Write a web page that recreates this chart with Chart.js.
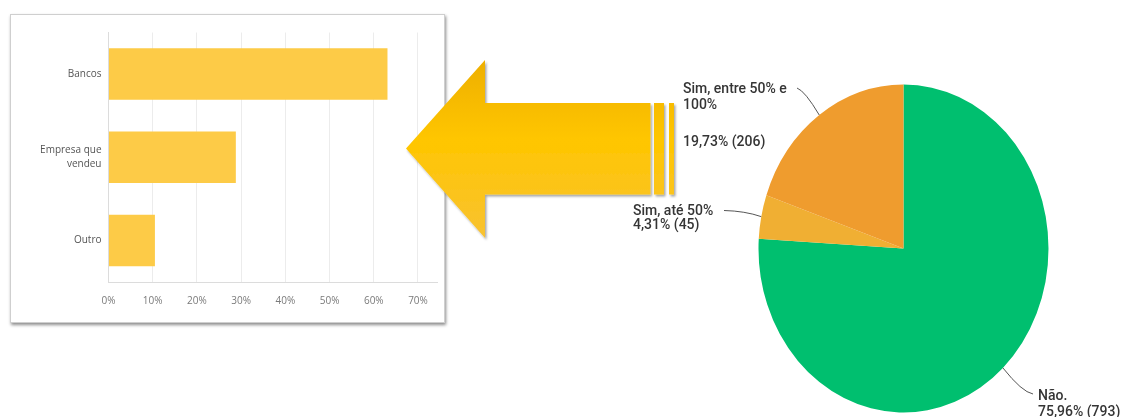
<!DOCTYPE html>
<html>
<head>
<meta charset="utf-8">
<script src="https://cdn.jsdelivr.net/npm/chart.js@4"></script>
<style>
  html, body { margin: 0; padding: 0; background: #fff; }
  body { position: relative; width: 1124px; height: 417px; overflow: hidden; }
  #barBox {
    position: absolute; left: 10px; top: 14px; width: 435px; height: 309px;
    box-sizing: border-box; border: 1px solid #cfcfcf;
    box-shadow: 1px 2px 3px rgba(0, 0, 0, 0.45);
    background: #fff;
  }
  #barChart { position: absolute; left: 10px; top: 14px; }
  #arrow { position: absolute; left: 0; top: 0; }
  #pieChart { position: absolute; left: 600px; top: 0; }
</style>
</head>
<body>
<div id="barBox"></div>
<canvas id="barChart" width="435" height="309"></canvas>

<svg id="arrow" width="1124" height="417">
  <defs>
    <linearGradient id="gold" gradientUnits="userSpaceOnUse" x1="0" y1="60" x2="0" y2="238">
      <stop offset="0" stop-color="#eeaf00"/>
      <stop offset="0.45" stop-color="#ffc600"/>
      <stop offset="1" stop-color="#f8c232"/>
    </linearGradient>
    <filter id="shade" x="-10%" y="-10%" width="130%" height="130%">
      <feDropShadow dx="1.5" dy="2" stdDeviation="1.2" flood-color="#000" flood-opacity="0.35"/>
    </filter>
  </defs>
  <g fill="url(#gold)" filter="url(#shade)">
    <polygon points="406,148.5 485,60 485,103 650.5,103 650.5,194.5 485,194.5 485,238"/>
    <rect x="654" y="103" width="10" height="91.5"/>
    <rect x="669" y="103" width="5" height="91.5"/>
  </g>
</svg>

<canvas id="pieChart" width="524" height="417"></canvas>

<script>
// onde o comprador buscou resolver o problema (% dos que responderam)
const barLabels = ['Bancos', ['Empresa que', 'vendeu'], 'Outro'];
const barValues = [63.1, 28.8, 10.5];
const barTicks = [0, 10, 20, 30, 40, 50, 60, 70];

// recebeu o dinheiro de volta? (respostas)
const pieLabels = [['Não.'], ['Sim, até 50%'], ['Sim, entre 50% e', '100%']];
const pieCounts = [793, 45, 206];
const pieColors = ['#00bf6f', '#f0af33', '#ef9c2e'];

const pieTotal = pieCounts.reduce((a, b) => a + b, 0);
const pctText = n => (n / pieTotal * 100).toFixed(2).replace('.', ',') + '% (' + n + ')';

// pizza original é mais alta que larga
const SY = 164 / 145;

const barFont = {family: "'Open Sans', sans-serif", size: 10};

new Chart(document.getElementById('barChart'), {
    type: 'bar',
    data: {
        labels: barLabels,
        datasets: [{
            data: barValues,
            backgroundColor: '#fdcb47',
            borderWidth: 0,
            categoryPercentage: 1,
            barPercentage: 0.62
        }]
    },
    options: {
        indexAxis: 'y',
        responsive: false,
        animation: false,
        layout: {padding: {top: 18.5, right: 8, bottom: 0, left: 0}},
        plugins: {legend: {display: false}, tooltip: {enabled: false}},
        scales: {
            x: {
                min: 0,
                max: 74.3,
                afterBuildTicks: s => { s.ticks = barTicks.map(v => ({value: v})); },
                afterFit: s => { s.height = 41; },
                grid: {color: '#ececec', drawTicks: false},
                border: {color: '#dcdcdc'},
                ticks: {
                    padding: 13,
                    color: '#7a7a7a',
                    font: barFont,
                    callback: v => v + '%'
                }
            },
            y: {
                afterFit: s => { s.width = 98.5; },
                grid: {display: false, drawTicks: false},
                border: {color: '#dcdcdc'},
                ticks: {padding: 7, color: '#555', font: {...barFont, lineHeight: 1.4}}
            }
        }
    }
});

// estica a pizza na vertical só na hora de desenhar os arcos
const stretchPie = {
    id: 'stretchPie',
    beforeDatasetsDraw(chart) {
        const {ctx, chartArea: a} = chart;
        const cy = (a.top + a.bottom) / 2;
        ctx.save();
        ctx.translate(0, cy);
        ctx.scale(1, SY);
        ctx.translate(0, -cy);
    },
    afterDatasetsDraw(chart) {
        chart.ctx.restore();
    }
};

// posição dos rótulos e pontos das linhas de chamada
const callouts = [
    {x: 438, lines: [396.7, 412], ctrl: [422, 392], end: [433, 394]},
    {x: 33, lines: [211.7, 225.5], ctrl: [145, 211], end: [124, 210.5]},
    {x: 83, lines: [89, 105, 142], ctrl: [205, 91], end: [197, 88]}
];

const pieCallouts = {
    id: 'pieCallouts',
    afterDraw(chart) {
        const ctx = chart.ctx;
        const arcs = chart.getDatasetMeta(0).data;
        ctx.save();
        ctx.strokeStyle = '#555';
        ctx.lineWidth = 1;
        ctx.fillStyle = '#353535';
        ctx.font = "500 14px Roboto, sans-serif";
        ctx.textBaseline = 'middle';
        ctx.textAlign = 'left';
        arcs.forEach((arc, i) => {
            const c = callouts[i];
            const mid = (arc.startAngle + arc.endAngle) / 2;
            const ax = arc.x + arc.outerRadius * Math.cos(mid);
            const ay = arc.y + arc.outerRadius * Math.sin(mid) * SY;
            ctx.beginPath();
            ctx.moveTo(ax, ay);
            ctx.quadraticCurveTo(c.ctrl[0], c.ctrl[1], c.end[0], c.end[1]);
            ctx.stroke();
            const text = pieLabels[i].concat([pctText(pieCounts[i])]);
            text.forEach((t, k) => ctx.fillText(t, c.x, c.lines[k]));
        });
        ctx.restore();
    }
};

new Chart(document.getElementById('pieChart'), {
    type: 'pie',
    data: {
        labels: pieLabels.map(l => l.join(' ')),
        datasets: [{
            data: pieCounts,
            backgroundColor: pieColors,
            borderWidth: 0,
            radius: 145,
            clip: false
        }]
    },
    options: {
        responsive: false,
        animation: false,
        layout: {padding: {left: 158.5, right: 75.5, top: 103.5, bottom: 23.5}},
        plugins: {legend: {display: false}, tooltip: {enabled: false}}
    },
    plugins: [stretchPie, pieCallouts]
});
</script>
</body>
</html>
